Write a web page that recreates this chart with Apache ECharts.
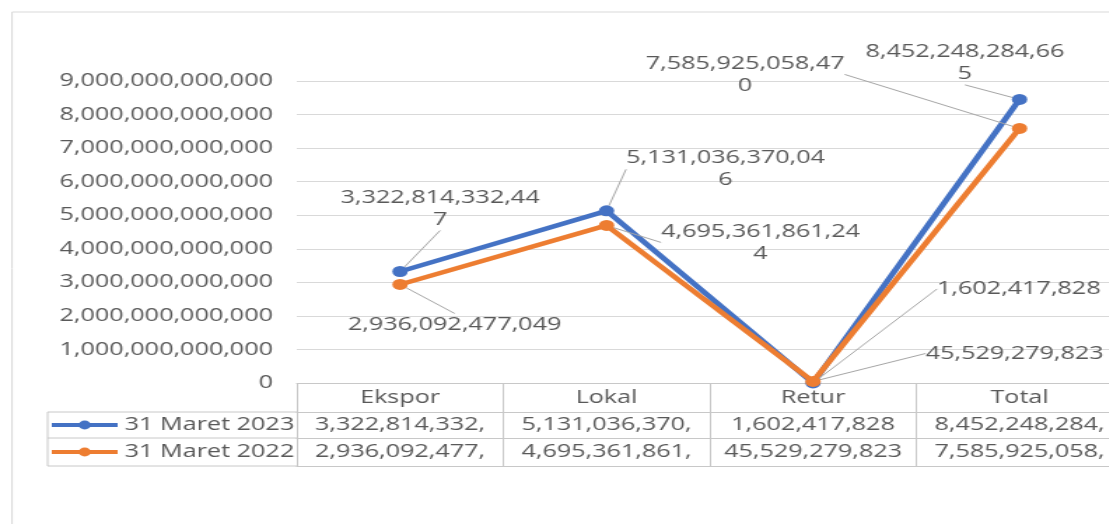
<!DOCTYPE html>
<html>
<head>
<meta charset="utf-8">
<script src="https://cdn.jsdelivr.net/npm/echarts@6/dist/echarts.min.js"></script>
<style>
html,body{margin:0;padding:0;background:#fff;overflow:hidden;width:1109px;height:524px;}
#wrap{width:830px;height:524px;transform:scaleX(1.4);transform-origin:0 0;}
</style>
</head>
<body>
<div id="wrap"></div>
<script>
// ---- data ----
var categories = ['Ekspor', 'Lokal', 'Retur', 'Total'];
var seriesNames = ['31 Maret 2023', '31 Maret 2022'];
var values2023 = [3322814332447, 5131036370046, 1602417828, 8452248284665];
var values2022 = [2936092477049, 4695361861244, 45529279823, 7585925058470];
var yTicks = [0, 1e12, 2e12, 3e12, 4e12, 5e12, 6e12, 7e12, 8e12, 9e12];

// ---- style ----
var FONT = 'Open Sans';
var TXT = '#595959';
var GRID = '#d9d9d9';
var TABLE = '#c8c8c8';
var COLORS = ['#4472C4', '#ED7D31'];
// label offsets from point (unscaled px) and wrap flags
var labelOffsets = [
  [[28.6, -63], [85, -41.5], [147, -94], [-39, -36.5]],
  [[39, 40], [110, 17], [144, -28], [-196, -54]]
];
var wrapFlags = [
  [true, true, false, true],
  [false, true, false, true]
];

function fmt(v) { return Number(v).toLocaleString('en-US'); }
function cell(v) { var s = fmt(v); return s.length > 14 ? s.slice(0, 14) : s; }

var chart = echarts.init(document.getElementById('wrap'), null, {renderer: 'canvas'});

function makeSeries(idx, vals) {
  return {
    name: seriesNames[idx],
    type: 'line',
    data: vals,
    xAxisIndex: 0,
    yAxisIndex: 0,
    symbol: 'circle',
    symbolSize: 11,
    color: COLORS[idx],
    lineStyle: {width: 4.5, color: COLORS[idx]},
    itemStyle: {color: COLORS[idx]},
    emphasis: {disabled: true},
    animation: false,
    label: {
      show: true,
      position: 'top',
      fontFamily: FONT,
      fontSize: 18,
      lineHeight: 22,
      color: TXT,
      align: 'center',
      formatter: function (p) {
        var s = fmt(p.value);
        if (wrapFlags[idx][p.dataIndex] && s.length > 16) s = s.slice(0, 16) + '\n' + s.slice(16);
        return s;
      }
    },
    labelLine: {show: true, lineStyle: {color: '#a6a6a6', width: 1}},
    labelLayout: function (p) {
      var o = labelOffsets[idx][p.dataIndex];
      return {
        x: p.rect.x + p.rect.width / 2 + o[0],
        y: p.rect.y + p.rect.height / 2 + o[1],
        align: 'center',
        verticalAlign: 'middle',
        hideOverlap: false
      };
    }
  };
}

function rowAxis(offset, vals, margin) {
  return {
    type: 'category',
    data: categories,
    position: 'bottom',
    offset: offset,
    boundaryGap: true,
    axisLine: {show: true, lineStyle: {color: TABLE, width: 1}},
    axisTick: {show: false},
    axisLabel: {
      show: !!vals,
      interval: 0,
      margin: margin,
      fontFamily: FONT,
      fontSize: 18,
      color: TXT,
      formatter: function (v, i) { return vals ? cell(vals[i]) : ''; }
    },
    splitLine: {show: false}
  };
}

var option = {
  backgroundColor: '#fff',
  animation: false,
  grid: {left: 212, top: 81, width: 590, height: 302, containLabel: false},
  legend: {
    orient: 'vertical',
    left: 35,
    top: 416,
    padding: 0,
    itemWidth: 47,
    itemHeight: 11,
    itemGap: 9,
    selectedMode: false,
    lineStyle: {width: 4},
    textStyle: {fontFamily: FONT, fontSize: 18, color: TXT},
    data: seriesNames
  },
  xAxis: [
    {
      type: 'category',
      data: categories,
      boundaryGap: true,
      position: 'bottom',
      axisLine: {show: true, lineStyle: {color: TABLE, width: 1}},
      axisTick: {show: true, length: 83, interval: 0, lineStyle: {color: TABLE, width: 1}},
      axisLabel: {interval: 0, margin: 6, fontFamily: FONT, fontSize: 18, color: TXT},
      splitLine: {show: false}
    },
    rowAxis(29, values2023, 4),
    rowAxis(55, values2022, 5),
    rowAxis(83, null, 5)
  ],
  yAxis: {
    type: 'value',
    min: yTicks[0],
    max: yTicks[yTicks.length - 1],
    interval: yTicks[1] - yTicks[0],
    axisLine: {show: false},
    axisTick: {show: false},
    splitLine: {show: true, lineStyle: {color: GRID, width: 1}},
    axisLabel: {
      margin: 17,
      fontFamily: FONT,
      fontSize: 18,
      color: TXT,
      formatter: function (v) { return fmt(v); }
    }
  },
  graphic: [
    // chart frame
    {type: 'rect', silent: true, z: -10, shape: {x: 8.6, y: 12, width: 900, height: 700},
     style: {fill: 'none', stroke: GRID, lineWidth: 1}},
    // legend column of data table
    {type: 'line', silent: true, shape: {x1: 34, y1: 412, x2: 212, y2: 412}, style: {stroke: TABLE, lineWidth: 1}},
    {type: 'line', silent: true, shape: {x1: 34, y1: 438, x2: 212, y2: 438}, style: {stroke: TABLE, lineWidth: 1}},
    {type: 'line', silent: true, shape: {x1: 34, y1: 466, x2: 212, y2: 466}, style: {stroke: TABLE, lineWidth: 1}},
    {type: 'line', silent: true, shape: {x1: 34, y1: 412, x2: 34, y2: 466}, style: {stroke: TABLE, lineWidth: 1}}
  ],
  series: [makeSeries(0, values2023), makeSeries(1, values2022)]
};
chart.setOption(option);
</script>
</body>
</html>
